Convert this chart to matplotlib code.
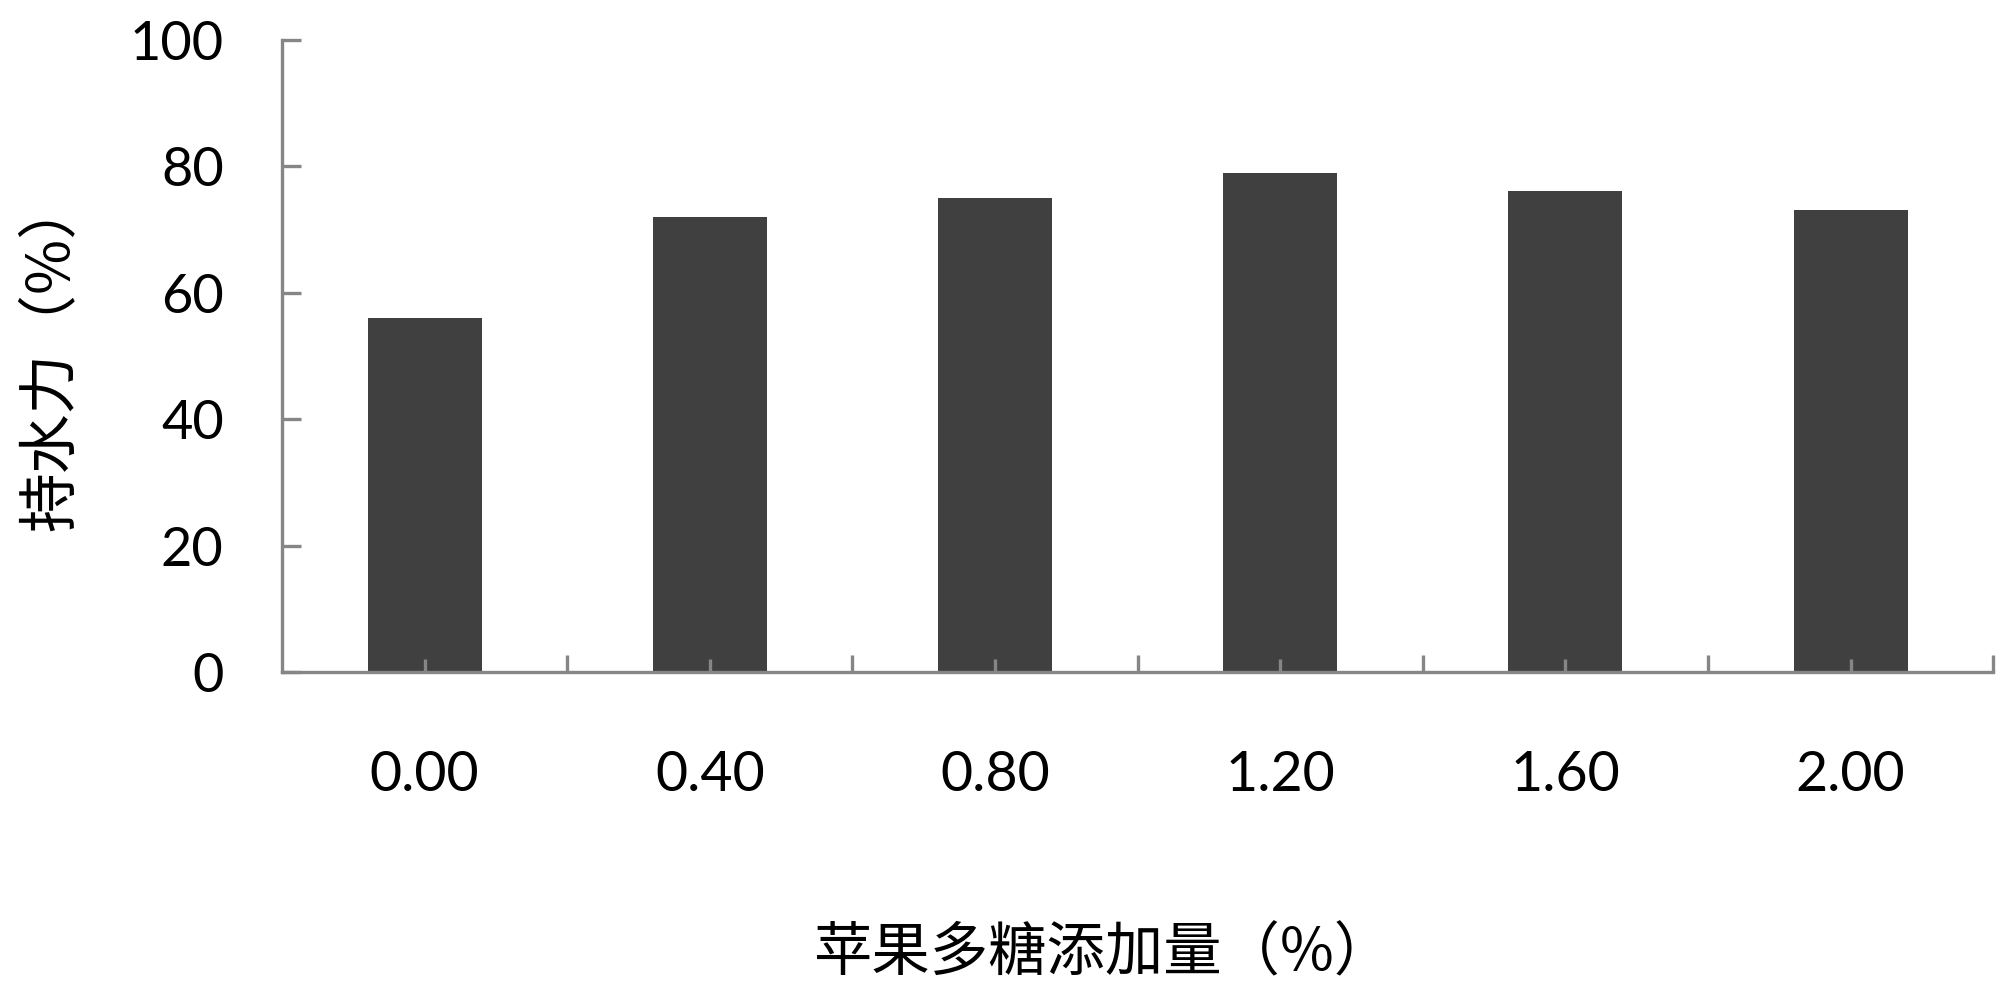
import matplotlib
matplotlib.use('Agg')
import matplotlib.pyplot as plt
from matplotlib.ticker import FixedLocator

# data
categories = ['0.00', '0.40', '0.80', '1.20', '1.60', '2.00']
water_holding = [56, 72, 75, 79, 76, 73]
y_ticks = [0, 20, 40, 60, 80, 100]

plt.rcParams['font.family'] = ['Lato', 'Noto Sans CJK SC', 'DejaVu Sans']

AXIS_COLOR = '#868686'
BAR_COLOR = '#404040'

fig = plt.figure(figsize=(19.99, 9.91), dpi=100)
ax = fig.add_axes([0.1411, 0.3219, 0.856, 0.638])

x = list(range(len(categories)))
ax.bar(x, water_holding, width=0.4, color=BAR_COLOR, zorder=1)

ax.set_xlim(-0.5, len(categories) - 0.5)
ax.set_ylim(0, 100)

for side in ('top', 'right'):
    ax.spines[side].set_visible(False)
for side in ('left', 'bottom'):
    ax.spines[side].set_color(AXIS_COLOR)
    ax.spines[side].set_linewidth(2.4)

ax.set_yticks(y_ticks)
ax.set_yticklabels([str(v) for v in y_ticks])
ax.tick_params(axis='y', direction='in', length=14, width=2.4, color=AXIS_COLOR,
               labelsize=39, pad=42)

# category borders as major ticks, category centres as minor ticks
ax.xaxis.set_major_locator(FixedLocator([i + 0.5 for i in x]))
ax.xaxis.set_minor_locator(FixedLocator(x))
ax.set_xticklabels([], minor=False)
ax.set_xticklabels(categories, minor=True)
ax.tick_params(axis='x', which='major', direction='in', length=12.5, width=2.4,
               color=AXIS_COLOR)
ax.tick_params(axis='x', which='minor', direction='in', length=9.5, width=2.4,
               color=AXIS_COLOR, labelsize=40, pad=56)

fig.text(0.0255, 0.643, '持水力（%）', rotation=90, fontsize=43,
         family=['Noto Sans CJK SC', 'DejaVu Sans'], ha='center', va='center')
fig.text(0.552, 0.037, '苹果多糖添加量（%）', fontsize=42,
         family=['Noto Sans CJK SC', 'DejaVu Sans'], ha='center', va='center')

fig.savefig('out.png', dpi=100, facecolor='white')
